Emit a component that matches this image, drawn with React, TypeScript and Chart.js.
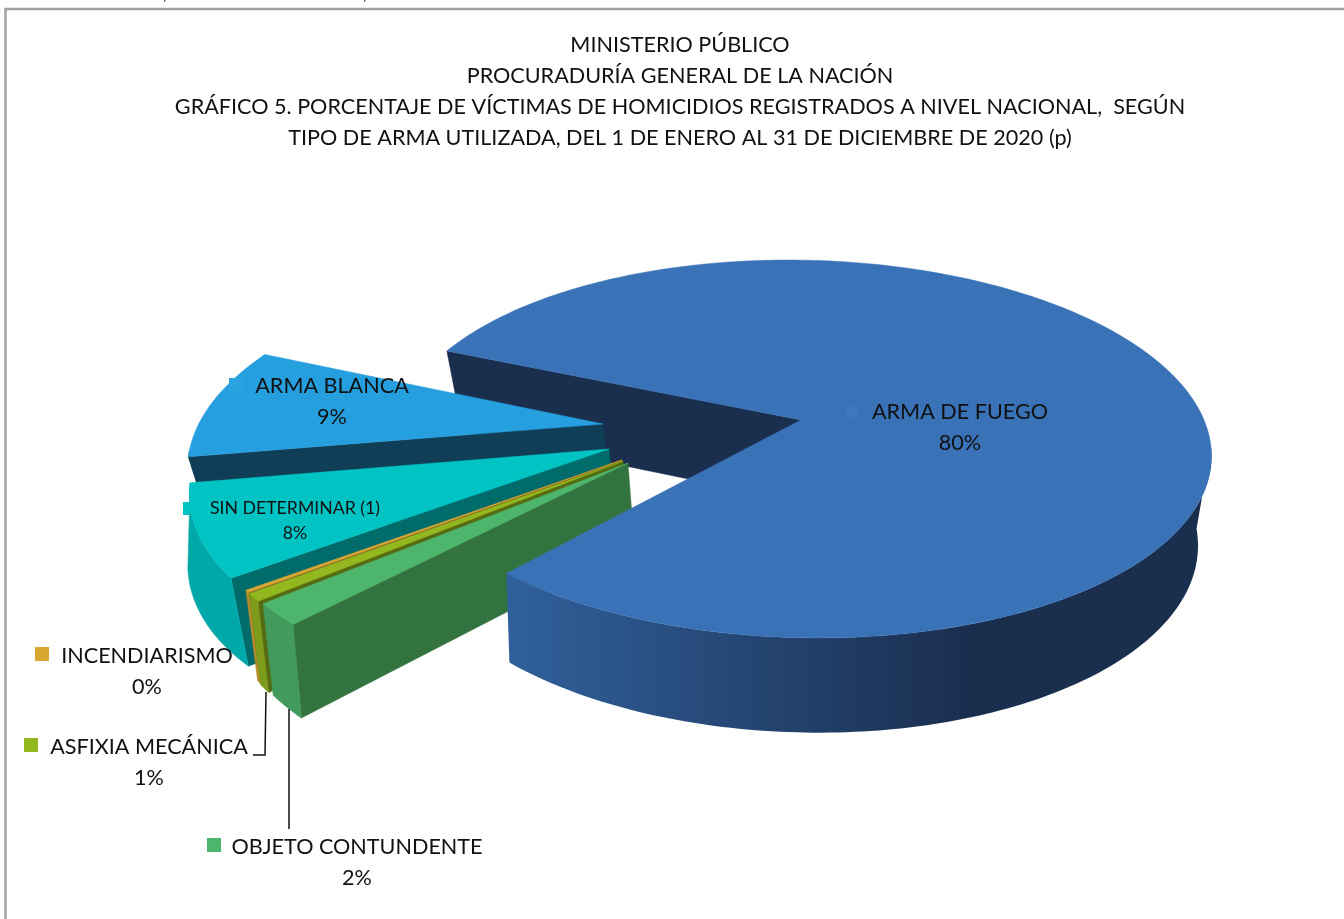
import React, { useEffect, useRef } from "react";
import { Chart, registerables } from "chart.js";

Chart.register(...registerables);

const titleLines = [
  "MINISTERIO PÚBLICO",
  "PROCURADURÍA GENERAL DE LA NACIÓN",
  "GRÁFICO 5. PORCENTAJE DE VÍCTIMAS DE HOMICIDIOS REGISTRADOS A NIVEL NACIONAL,  SEGÚN",
  "TIPO DE ARMA UTILIZADA, DEL 1 DE ENERO AL 31 DE DICIEMBRE DE 2020 (p)",
];
// clockwise order of the slices
const categories = ["ARMA DE FUEGO", "OBJETO CONTUNDENTE", "ASFIXIA MECÁNICA", "INCENDIARISMO", "SIN DETERMINAR (1)", "ARMA BLANCA"];
const values = [80.3, 1.9, 0.65, 0.2, 7.7, 9.25];

const topColors = ["#3a72b8", "#4eb56d", "#93b81f", "#dba733", "#00c4c4", "#269fde"];
const wallColors = ["#1a2e4e", "#337340", "#566b12", "#7f5f1c", "#006b6b", "#103e57"];
const rimColors = ["#1a2e4e", "#439a5d", "#7d9c1c", "#b98c2a", "#00a9a9", "#103e57"];
const keyColors = ["#3f76bd", "#4eb56d", "#93b81f", "#dba733", "#00c4c4", "#2aa3e0"];

// Picture geometry (perspective of the top and the bottom face of the disc)
const TOP = { x: 803, y: 420, a: 403, b: 184.5, k: 0.1534 };
const BOTTOM = { x: 804, y: 502, a: 388, b: 188, k: 0.185 };
const APEX: [number, number][] = [[803, 420], [628, 463], [623, 461], [622, 460], [609, 449], [603, 424]];
const RADIUS = [1, 0.98, 0.98, 0.98, 0.99, 1.0];
const BOTTOM_RADIUS_START = [1, 0.98, 0.98, 0.98, 0.98, 1.0];
const BOTTOM_RADIUS_END = [1, 0.98, 0.98, 0.98, 1.05, 1.0];
const MAIN_SHEAR = 0.08;
const MAIN_SHIFT_TOP = -2;
const MAIN_SHIFT_BOTTOM = -4;
const FAN_SHIFT_BOTTOM = 6;
const LABEL_POS: [number, number, number][] = [[960, 412, 443], [357, 847, 878], [149, 747, 778], [147, 656, 687], [295, 508, 533], [332, 386, 417]];
const KEY_POS: [number, number][] = [[846, 405], [207, 838], [24, 738], [35, 647], [183, 502], [229, 378]];
const KEY_W = [13, 14, 14, 14, 7, 14];
const LABEL_SIZE = [21.6, 21.6, 21.6, 21.6, 17.7, 21.6];
const FONT = "Lato, 'Noto Sans', sans-serif";
const RIM_MIN = (8 * Math.PI) / 180;
const RIM_MAX = (172 * Math.PI) / 180;

type P = { x: number; y: number; a: number; b: number; k: number };
const project = (p: P, u: number, v: number, shear = 0, shift = 0): [number, number] => {
  const w = 1 - p.k * v;
  const Y = (p.b * v) / w;
  return [p.x + (p.a * u) / w + shear * Y + shift, p.y + Y];
};
const unproject = (sx: number, sy: number): [number, number] => {
  const Y = sy - TOP.y;
  const v = Y / (TOP.b + Y * TOP.k);
  const u = ((sx - TOP.x) * (1 - TOP.k * v)) / TOP.a;
  return [u, v];
};

const poly = (ctx: CanvasRenderingContext2D, pts: [number, number][], fill: any) => {
  ctx.beginPath();
  pts.forEach((q, i) => (i ? ctx.lineTo(q[0], q[1]) : ctx.moveTo(q[0], q[1])));
  ctx.closePath();
  ctx.fillStyle = fill;
  ctx.strokeStyle = fill;
  ctx.lineWidth = 0.5;
  ctx.fill();
  if (typeof fill === "string") ctx.stroke();
};

const pie3d = {
  id: "pie3d",
  beforeDatasetsDraw(chart: any) {
    const ctx: CanvasRenderingContext2D = chart.ctx;
    const arcs = chart.getDatasetMeta(0).data;
    const total = values.reduce((a, b) => a + b, 0);

    ctx.save();
    // frame and the clipped line of text above it
    ctx.strokeStyle = "#a3a3a3";
    ctx.lineWidth = 2.5;
    ctx.beginPath();
    ctx.moveTo(5.5, 919);
    ctx.lineTo(5.5, 9);
    ctx.lineTo(1344, 9);
    ctx.stroke();
    ctx.fillStyle = "#111";
    ctx.font = `21.6px ${FONT}`;
    ctx.textAlign = "center";
    ctx.textBaseline = "alphabetic";
    ctx.fillText(",", 165, -1);
    ctx.fillText(",", 365, -1);

    const onFace = (i: number, face: P, u: number, v: number) => {
      if (i !== 0) return project(face, u, v, 0, face === TOP ? 0 : FAN_SHIFT_BOTTOM);
      return project(face, u, v, MAIN_SHEAR, face === TOP ? MAIN_SHIFT_TOP : MAIN_SHIFT_BOTTOM);
    };
    // f is the position along the slice's whole arc, 0 at its start and 1 at its end
    const rimPoint = (i: number, face: P, t: number, f: number) => {
      const [ua, va] = unproject(APEX[i][0], APEX[i][1]);
      const r = face === TOP ? RADIUS[i] : BOTTOM_RADIUS_START[i] + (BOTTOM_RADIUS_END[i] - BOTTOM_RADIUS_START[i]) * f;
      return onFace(i, face, ua + r * Math.cos(t), va + r * Math.sin(t));
    };
    const arcPts = (i: number, face: P, s: number, e: number) => {
      const n = Math.max(2, Math.ceil(((e - s) * 180) / Math.PI));
      const out: [number, number][] = [];
      for (let j = 0; j <= n; j++) out.push(rimPoint(i, face, s + ((e - s) * j) / n, j / n));
      return out;
    };
    const apexOn = (i: number, face: P): [number, number] => {
      const [ua, va] = unproject(APEX[i][0], APEX[i][1]);
      if (i !== 0) return project(face, ua, va);
      return onFace(i, face, ua, va);
    };
    const startWall = (i: number) => {
      const s = arcs[i].startAngle;
      poly(ctx, [apexOn(i, TOP), rimPoint(i, TOP, s, 0), rimPoint(i, BOTTOM, s, 0), apexOn(i, BOTTOM)], wallColors[i]);
    };
    const rim = (i: number, fill: any) => {
      const norm = (a: number) => {
        const two = Math.PI * 2;
        return ((a % two) + two) % two;
      };
      let s = norm(arcs[i].startAngle);
      let e = norm(arcs[i].endAngle);
      if (i === 0) s = RIM_MIN;
      s = Math.max(s, RIM_MIN);
      e = Math.min(e, RIM_MAX);
      if (e <= s) return;
      poly(ctx, [...arcPts(i, TOP, s, e), ...arcPts(i, BOTTOM, s, e).reverse()], fill);
    };
    const top = (i: number) => {
      poly(ctx, [apexOn(i, TOP), ...arcPts(i, TOP, arcs[i].startAngle, arcs[i].endAngle)], arcs[i].options.backgroundColor);
    };

    startWall(0);
    for (let i = 5; i >= 1; i--) {
      startWall(i);
      rim(i, rimColors[i]);
      top(i);
    }
    const g = ctx.createLinearGradient(508, 0, 970, 0);
    g.addColorStop(0, "#30609b");
    g.addColorStop(1, rimColors[0]);
    rim(0, g);
    top(0);

    // leader lines
    ctx.strokeStyle = "#111";
    ctx.lineWidth = 1.5;
    ctx.beginPath();
    ctx.moveTo(266, 692);
    ctx.lineTo(265, 755);
    ctx.lineTo(253, 755);
    ctx.moveTo(289, 709);
    ctx.lineTo(289, 829);
    ctx.stroke();

    // keys and labels
    ctx.textAlign = "center";
    ctx.textBaseline = "middle";
    categories.forEach((c, i) => {
      ctx.fillStyle = keyColors[i];
      ctx.fillRect(KEY_POS[i][0], KEY_POS[i][1], KEY_W[i], i === 4 ? 13 : 14);
      ctx.fillStyle = "#111";
      ctx.font = `${LABEL_SIZE[i]}px ${FONT}`;
      ctx.fillText(c, LABEL_POS[i][0], LABEL_POS[i][1]);
      ctx.fillText(`${Math.round((values[i] / total) * 100)}%`, LABEL_POS[i][0], LABEL_POS[i][2]);
    });
    ctx.restore();
    return false;
  },
};

export default function App() {
  const ref = useRef<HTMLCanvasElement>(null);
  useEffect(() => {
    document.body.style.margin = "0";
    const chart = new Chart(ref.current as HTMLCanvasElement, {
      type: "pie",
      data: {
        labels: categories,
        datasets: [{ data: values, backgroundColor: topColors, borderWidth: 0 }],
      },
      options: {
        responsive: false,
        animation: false,
        rotation: 293.4,
        layout: { padding: { left: 16 } },
        plugins: {
          legend: { display: false },
          tooltip: { enabled: false },
          title: {
            display: true,
            text: titleLines,
            color: "#111",
            font: { family: FONT, size: 21.6, weight: "normal", lineHeight: 31 / 21.6 },
            padding: { top: 30, bottom: 0 },
          },
        },
      },
      plugins: [pie3d],
    } as any);
    return () => chart.destroy();
  }, []);
  return <canvas ref={ref} width={1344} height={919} style={{ position: "absolute", left: 0, top: 0, display: "block" }} />;
}
